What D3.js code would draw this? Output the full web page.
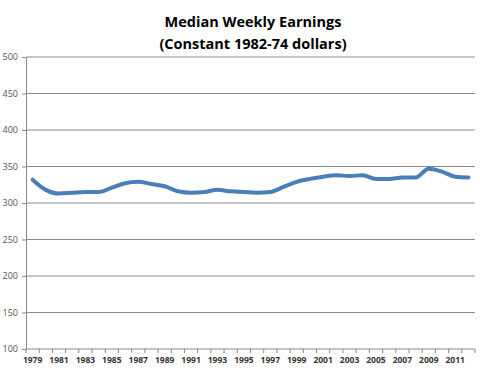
<!DOCTYPE html>
<html>
<head>
<meta charset="UTF-8">
<script src="https://d3js.org/d3.v7.min.js"></script>
<style>
	body { margin: 0; background: #fff; }
	text { font-family: "Open Sans", "Noto Sans", sans-serif; }
</style>
</head>
<body>
<div id="chart"></div>
<script>
	// data
	let years = d3.range(1979, 2013);
	let earnings = [332, 318, 313, 314, 315, 315, 321, 327, 329, 326, 323, 316, 314, 315, 318, 316,
		315, 314, 315, 322, 329, 333, 336, 338, 337, 338, 333, 333, 335, 335, 347, 343, 336, 335];
	let yTicks = [100, 150, 200, 250, 300, 350, 400, 450, 500];
	let titleLines = ["Median Weekly Earnings", "(Constant 1982-74 dollars)"];

	let width = 480;
	let height = 371;
	let margin = { top: 57, right: 5, bottom: 22, left: 26 };

	let svg = d3.select("#chart").append("svg")
		.attr("width", width)
		.attr("height", height);

	let x = d3.scaleBand()
		.domain(years)
		.range([margin.left, width - margin.right]);

	let y = d3.scaleLinear()
		.domain([100, 500])
		.range([height - margin.bottom, margin.top]);

	// title
	svg.selectAll(".title")
		.data(titleLines)
		.join("text")
		.attr("class", "title")
		.attr("x", 253)
		.attr("y", (d, i) => 27 + i * 22)
		.attr("text-anchor", "middle")
		.attr("font-size", 14.5)
		.attr("font-weight", "bold")
		.attr("fill", "#000")
		.text(d => d);

	// horizontal gridlines
	svg.selectAll(".grid")
		.data(yTicks.slice(1))
		.join("line")
		.attr("class", "grid")
		.attr("x1", margin.left)
		.attr("x2", width - margin.right)
		.attr("y1", d => y(d))
		.attr("y2", d => y(d))
		.attr("stroke", "#888")
		.attr("stroke-width", 1);

	// y axis
	let yAxis = svg.append("g")
		.attr("transform", `translate(${margin.left},0)`)
		.call(d3.axisLeft(y).tickValues(yTicks).tickSize(4).tickPadding(4));
	yAxis.select(".domain").attr("stroke", "#888");
	yAxis.selectAll(".tick line").attr("stroke", "#888");
	yAxis.selectAll(".tick text")
		.attr("font-size", 9)
		.attr("font-family", "Open Sans, sans-serif")
		.attr("fill", "#555");

	// x axis with ticks between categories
	let xAxisG = svg.append("g")
		.attr("transform", `translate(0,${height - margin.bottom})`);
	xAxisG.append("line")
		.attr("x1", margin.left)
		.attr("x2", width - margin.right)
		.attr("stroke", "#888");
	xAxisG.selectAll(".xtick")
		.data(years.concat([2013]))
		.join("line")
		.attr("class", "xtick")
		.attr("x1", (d, i) => margin.left + i * x.step())
		.attr("x2", (d, i) => margin.left + i * x.step())
		.attr("y1", 0)
		.attr("y2", 4)
		.attr("stroke", "#888");
	xAxisG.selectAll(".xlabel")
		.data(years.filter(d => d % 2 === 1))
		.join("text")
		.attr("class", "xlabel")
		.attr("x", d => x(d) + x.bandwidth() / 2)
		.attr("y", 14)
		.attr("text-anchor", "middle")
		.attr("font-size", 8.5)
		.attr("font-weight", "bold")
		.attr("fill", "#333")
		.text(d => d);

	// line
	let line = d3.line()
		.x((d, i) => x(years[i]) + x.bandwidth() / 2)
		.y(d => y(d))
		.curve(d3.curveMonotoneX);

	svg.append("path")
		.datum(earnings)
		.attr("d", line)
		.attr("fill", "none")
		.attr("stroke", "#4a7ebb")
		.attr("stroke-width", 4)
		.attr("stroke-linejoin", "round")
		.attr("stroke-linecap", "round");
</script>
</body>
</html>
